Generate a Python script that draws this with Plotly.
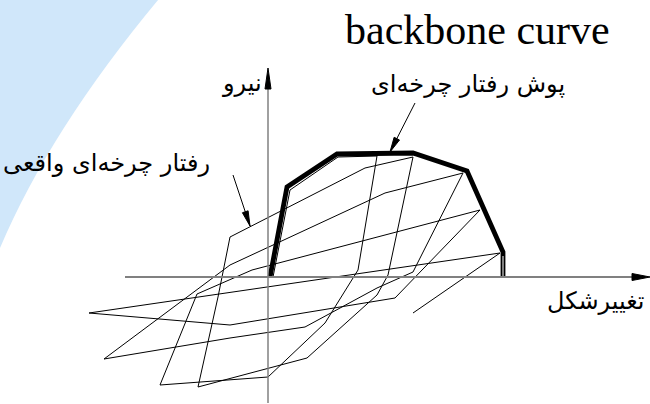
import plotly.graph_objects as go

# ---------------- data (deformation, force) ----------------
backbone_x = [0.2, 1.9, 6.9, 14.5, 19.9, 23.5, 23.5]
backbone_y = [0.0, 9.0, 12.3, 12.4, 10.6, 2.5, 0.0]

# actual cyclic response, branch by branch
load0_x = [0.5, 2.2, 7.0, 10.9]
load0_y = [0.0, 8.7, 12.0, 12.1]
unload1_x = [10.9, 9.0, 5.7, 0.0, -10.8]
unload1_y = [12.1, 0.7, -4.6, -10.0, -10.8]
reload1_x = [-10.8, -7.1, -1.6, 11.7, 21.2]
reload1_y = [-10.8, -1.7, 0.7, 4.2, 6.7]
reload2_x = [-7.0, -5.0, -3.8, 9.7, 14.5]
reload2_y = [-11.0, -2.0, 4.0, 10.9, 12.0]
unload2_x = [14.5, 12.0, 10.9, 3.9, -7.0]
unload2_y = [12.0, 0.2, -1.8, -8.1, -11.0]
unload3_x = [19.5, 14.5, 10.9, 3.7, -3.8, -16.4]
unload3_y = [10.4, 0.5, -1.1, -5.0, -6.1, -8.2]
reload3_x = [-16.4, -3.8, 11.7, 19.5]
reload3_y = [-8.2, 1.2, 8.4, 10.4]
unload4_x = [21.2, 12.7, -3.8, -17.9]
unload4_y = [6.7, -2.1, -4.8, -3.6]
reload4_x = [-17.9, 23.2]
reload4_y = [-3.6, 2.4]
unload5_x = [23.2, 14.5]
unload5_y = [2.4, -3.6]

branches = [
    (load0_x, load0_y), (unload1_x, unload1_y), (reload1_x, reload1_y),
    (reload2_x, reload2_y), (unload2_x, unload2_y), (unload3_x, unload3_y),
    (reload3_x, reload3_y), (unload4_x, unload4_y), (reload4_x, reload4_y),
    (unload5_x, unload5_y),
]

# axes extents and labels
x_axis_from, x_axis_to = -14.3, 38.2
y_axis_from, y_axis_to = -12.6, 20.9
title_text = "backbone curve"
force_label = "نیرو"
deform_label = "تغییرشکل"
envelope_label = "پوش رفتار چرخه‌ای"
actual_label = "رفتار چرخه‌ای واقعی"

X_RANGE = [-26.8, 38.2]
Y_RANGE = [-12.7, 27.7]

fig = go.Figure()

# thin hysteresis branches
for bx, by in branches:
    fig.add_trace(go.Scatter(x=bx, y=by, mode="lines",
                             line=dict(color="black", width=1),
                             hoverinfo="skip", showlegend=False))

# backbone (thick)
fig.add_trace(go.Scatter(x=backbone_x, y=backbone_y, mode="lines",
                         line=dict(color="black", width=4.8),
                         hoverinfo="skip", showlegend=False))
fig.add_trace(go.Scatter(x=backbone_x[-2:], y=[backbone_y[-2] - 0.4, backbone_y[-1]],
                         mode="lines", line=dict(color="white", width=1),
                         hoverinfo="skip", showlegend=False))

shapes = []
# light blue decoration in the corner
W, H = 650.0, 404.0
shapes.append(dict(type="path", xref="paper", yref="paper", layer="below",
                   path=f"M 0,1 L {158/W:.4f},1 Q {50/W:.4f},{1-130/H:.4f} 0,{1-248/H:.4f} Z",
                   fillcolor="rgb(208,231,250)", line=dict(width=0)))
# axis lines
shapes.append(dict(type="line", xref="x", yref="y", x0=x_axis_from, x1=x_axis_to - 1.0,
                   y0=0, y1=0, line=dict(color="#808080", width=2)))
shapes.append(dict(type="line", xref="x", yref="y", x0=0, x1=0,
                   y0=y_axis_from, y1=y_axis_to - 1.0, line=dict(color="#808080", width=1.5)))


def head(tip, tail, length, half):
    tx, ty = tip
    dx, dy = tip[0] - tail[0], tip[1] - tail[1]
    n = (dx * dx + dy * dy) ** 0.5
    ux, uy = dx / n, dy / n
    bx, by = tx - ux * length, ty - uy * length
    px, py = -uy * half, ux * half
    return (f"M {tx},{ty} L {bx + px},{by + py} L {bx - px},{by - py} Z")


# axis arrowheads
shapes.append(dict(type="path", xref="x", yref="y",
                   path=head((x_axis_to, 0), (x_axis_from, 0), 1.8, 0.35),
                   fillcolor="black", line=dict(color="black", width=1)))
shapes.append(dict(type="path", xref="x", yref="y",
                   path=head((0, y_axis_to), (0, y_axis_from), 2.1, 0.3),
                   fillcolor="black", line=dict(color="black", width=1)))

# label pointer arrows
pointers = [((-3.5, 10.2), (-1.8, 5.1)), ((14.7, 17.4), (12.2, 12.5))]
for tail, tip in pointers:
    shapes.append(dict(type="line", xref="x", yref="y", x0=tail[0], y0=tail[1],
                       x1=tip[0], y1=tip[1], line=dict(color="black", width=1)))
    shapes.append(dict(type="path", xref="x", yref="y",
                       path=head(tip, tail, 1.5, 0.3),
                       fillcolor="black", line=dict(color="black", width=1)))

fa_font = dict(family="DejaVu Sans", size=24, color="black")
annotations = [
    dict(x=20.9, y=24.7, text=title_text, showarrow=False, xanchor="center", yanchor="middle",
         font=dict(family="Liberation Serif", size=42, color="black")),
    dict(x=-0.4, y=19.4, text=force_label, showarrow=False, xanchor="right", yanchor="middle",
         font=fa_font),
    dict(x=10.1, y=19.3, text=envelope_label, showarrow=False, xanchor="left", yanchor="middle",
         font=fa_font),
    dict(x=-5.6, y=11.4, text=actual_label, showarrow=False, xanchor="right", yanchor="middle",
         font=fa_font),
    dict(x=37.9, y=-2.4, text=deform_label, showarrow=False, xanchor="right", yanchor="middle",
         font=fa_font),
]
for a in annotations:
    a["xref"] = "x"
    a["yref"] = "y"

fig.update_layout(
    width=650, height=404,
    margin=dict(l=0, r=0, t=0, b=0),
    paper_bgcolor="white", plot_bgcolor="rgba(0,0,0,0)",
    xaxis=dict(range=X_RANGE, visible=False, fixedrange=True),
    yaxis=dict(range=Y_RANGE, visible=False, fixedrange=True),
    shapes=shapes, annotations=annotations, showlegend=False,
)

fig.write_html("out.html", config={"displayModeBar": False},
               post_script="document.body.style.margin='0';document.body.style.overflow='hidden';")
